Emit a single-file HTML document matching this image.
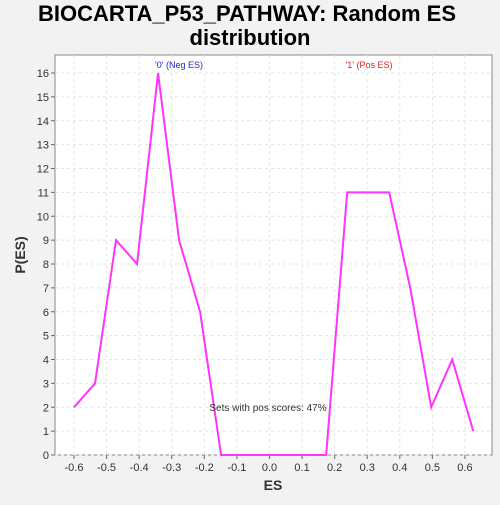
<!DOCTYPE html>
<html><head><meta charset="utf-8"><style>
body{margin:0;background:#f2f2f2;font-family:"Liberation Sans",sans-serif;}
</style></head><body>
<svg width="500" height="500" xmlns="http://www.w3.org/2000/svg">
<rect x="0" y="0" width="500" height="500" fill="#f2f2f2"/>
<text x="247" y="21" text-anchor="middle" font-size="22" font-weight="bold" font-family="Liberation Sans">BIOCARTA_P53_PATHWAY: Random ES</text>
<text x="250" y="45" text-anchor="middle" font-size="22" font-weight="bold" font-family="Liberation Sans">distribution</text>
<rect x="55" y="55" width="437" height="400" fill="#fff" stroke="#888"/>
<g id="grid"></g><g id="axes"></g>
<polyline id="line" fill="none" stroke="#ff33ff" stroke-width="2"/>
<text x="179" y="68" text-anchor="middle" font-size="9" fill="#2222cc">'0' (Neg ES)</text>
<text x="369" y="68" text-anchor="middle" font-size="9" fill="#dd2222">'1' (Pos ES)</text>
<text x="268" y="411" text-anchor="middle" font-size="10" fill="#333">Sets with pos scores: 47%</text>
<text x="273" y="490" text-anchor="middle" font-size="14" font-weight="bold" fill="#333">ES</text>
<text x="25" y="255" text-anchor="middle" font-size="14" font-weight="bold" fill="#333" transform="rotate(-90 25 255)">P(ES)</text>
</svg>
<script>
const xs=[-0.6,-0.5355,-0.471,-0.4065,-0.342,-0.2775,-0.213,-0.1485,-0.084,-0.0195,0.045,0.1095,0.174,0.2385,0.303,0.3675,0.432,0.4965,0.561,0.6255];
const ys=[2,3,9,8,16,9,6,0,0,0,0,0,0,11,11,11,7,2,4,1];
const xTicks=[-0.6,-0.5,-0.4,-0.3,-0.2,-0.1,0.0,0.1,0.2,0.3,0.4,0.5,0.6];
const yTicks=[0,1,2,3,4,5,6,7,8,9,10,11,12,13,14,15,16];
const X=v=>74+(v+0.6)*325.8, Y=v=>455-v*23.875;
const ns="http://www.w3.org/2000/svg";
const g=document.getElementById('grid'),a=document.getElementById('axes');
function mk(tag,at,p){const e=document.createElementNS(ns,tag);for(const k in at)e.setAttribute(k,at[k]);p.appendChild(e);return e;}
xTicks.forEach(t=>{const x=X(t);
const l=mk('line',{x1:x,x2:x,y1:55,y2:455,stroke:'#e4e4e4','stroke-dasharray':'3,3'},g);


mk('line',{x1:x,x2:x,y1:455,y2:459,stroke:'#666'},a);
const tx=mk('text',{x:x,y:471,'text-anchor':'middle','font-size':'11',fill:'#333'},a);tx.textContent=t.toFixed(1);

});
yTicks.forEach(t=>{const y=Y(t);
const l=mk('line',{x1:55,x2:492,y1:y,y2:y,stroke:'#e4e4e4','stroke-dasharray':'3,3'},g);


mk('line',{x1:51,x2:55,y1:y,y2:y,stroke:'#666'},a);
const tx=mk('text',{x:49,y:y+4,'text-anchor':'end','font-size':'11',fill:'#333'},a);tx.textContent=t;

});
document.getElementById('line').setAttribute('points',xs.map((x,i)=>X(x)+','+Y(ys[i])).join(' '));
</script>
</body></html>
